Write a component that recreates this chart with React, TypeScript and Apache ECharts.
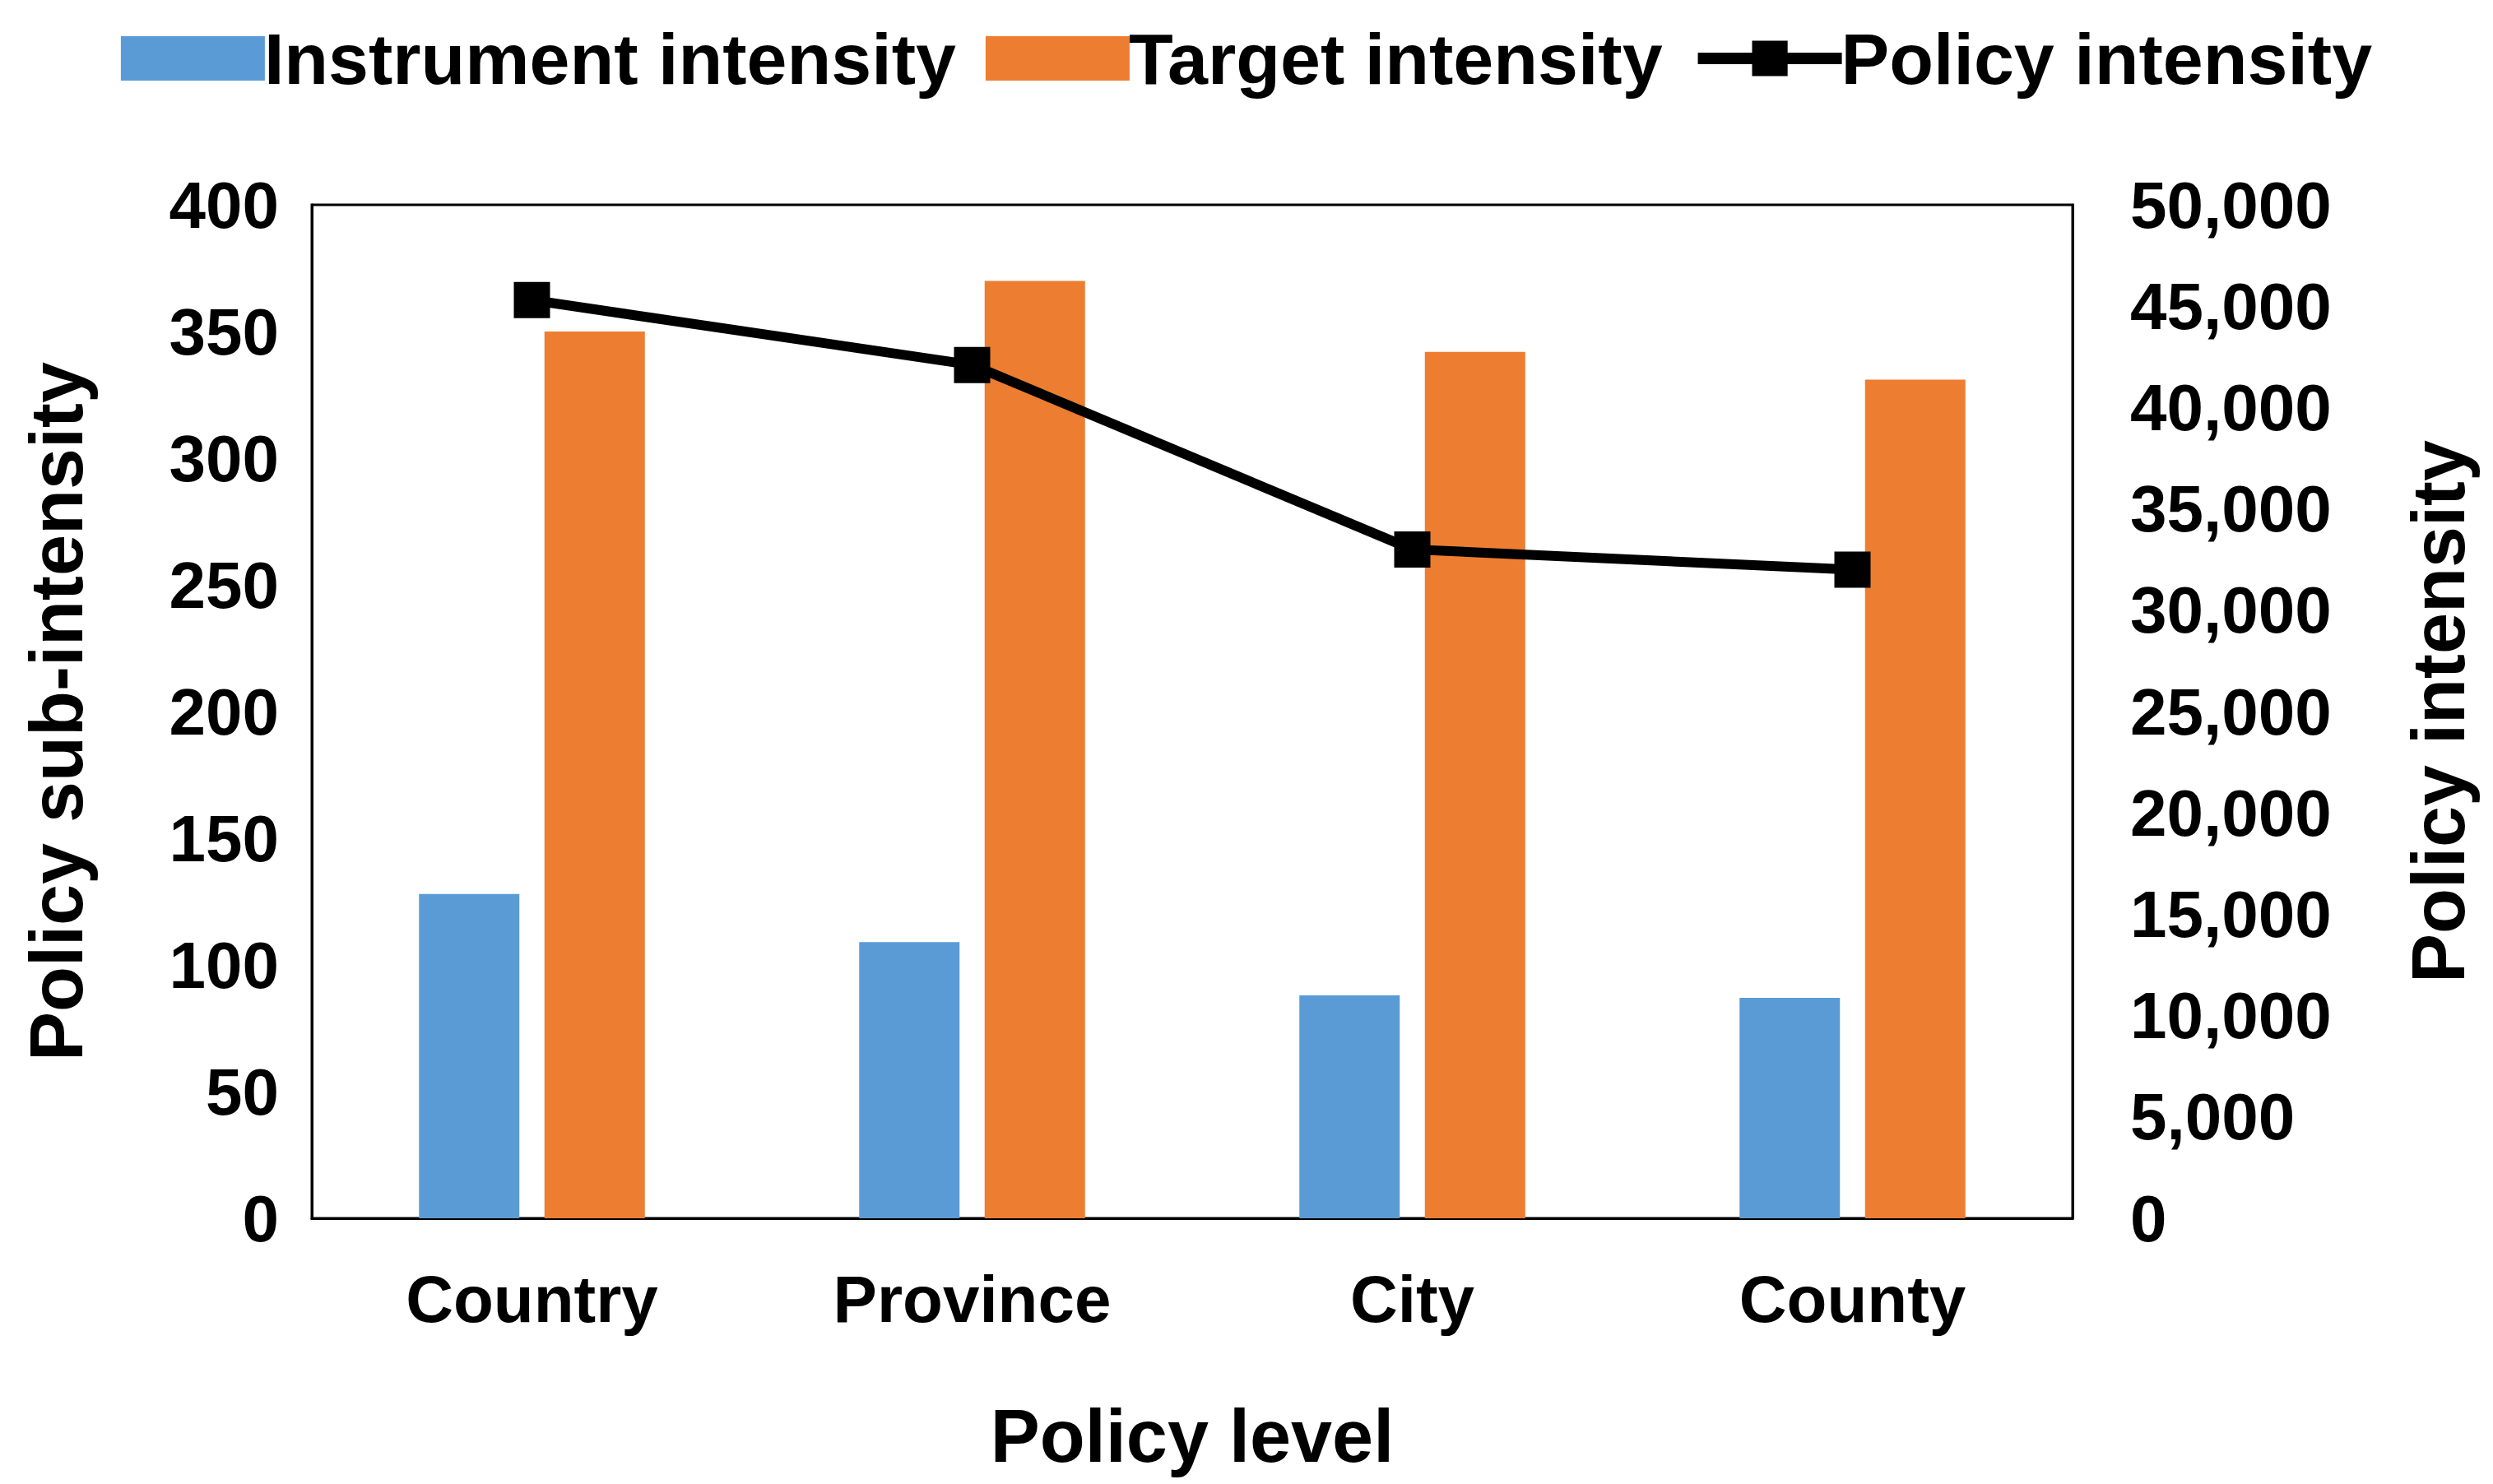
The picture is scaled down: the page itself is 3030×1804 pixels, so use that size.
import { useEffect, useRef } from 'react';
import * as echarts from 'echarts';

const categories = ['Country', 'Province', 'City', 'County'];
const instrument = [128, 109, 88, 87];
const target = [350, 370, 342, 331];
const policy = [45300, 42100, 33000, 32000];

const FONT = '"Liberation Sans", Arial, sans-serif';

export default function App() {
  const ref = useRef<HTMLDivElement>(null);

  useEffect(() => {
    if (!ref.current) return;
    const chart = echarts.init(ref.current, null, { renderer: 'svg' });
    const axisText = { fontSize: 80, fontWeight: 'bold', color: '#000', fontFamily: FONT };
    chart.setOption({
      animation: false,
      backgroundColor: '#fff',
      textStyle: { fontFamily: FONT },
      legend: {
        top: 14,
        left: 'center',
        itemWidth: 175,
        itemHeight: 54,
        itemGap: 36,
        textStyle: { fontSize: 88, fontWeight: 'bold', color: '#000', fontFamily: FONT, padding: [0, 0, 0, -6] },
        data: [
          { name: 'Instrument intensity', icon: 'rect' },
          { name: 'Target intensity', icon: 'rect' },
          { name: 'Policy intensity', lineStyle: { width: 14, color: '#000' } },
        ],
      },
      grid: {
        left: 371, right: 503, top: 241, bottom: 301,
        show: true, borderColor: '#000', borderWidth: 3,
      },
      xAxis: {
        type: 'category',
        data: categories,
        name: 'Policy level',
        nameLocation: 'middle',
        nameGap: 220,
        nameTextStyle: { ...axisText, fontSize: 90 },
        axisLine: { lineStyle: { color: '#000', width: 3 } },
        axisTick: { show: false },
        axisLabel: { ...axisText, margin: 58 },
      },
      yAxis: [
        {
          type: 'value',
          min: 0,
          max: 400,
          interval: 50,
          name: 'Policy sub-intensity',
          nameLocation: 'middle',
          nameGap: 265,
          nameTextStyle: { ...axisText, fontSize: 90 },
          axisLine: { show: true, lineStyle: { color: '#000', width: 3 } },
          axisTick: { show: false },
          splitLine: { show: false },
          axisLabel: { ...axisText, margin: 40 },
        },
        {
          type: 'value',
          min: 0,
          max: 50000,
          interval: 5000,
          name: 'Policy intensity',
          nameLocation: 'middle',
          nameGap: 400,
          nameRotate: 90,
          nameTextStyle: { ...axisText, fontSize: 90 },
          axisLine: { show: true, lineStyle: { color: '#000', width: 3 } },
          axisTick: { show: false },
          splitLine: { show: false },
          axisLabel: {
            ...axisText,
            margin: 70,
            formatter: (v: number) => v.toLocaleString('en-US'),
          },
        },
      ],
      series: [
        {
          name: 'Instrument intensity',
          type: 'bar',
          data: instrument,
          barWidth: 122,
          barGap: '25%',
          itemStyle: { color: '#5b9bd5' },
        },
        {
          name: 'Target intensity',
          type: 'bar',
          data: target,
          barWidth: 122,
          itemStyle: { color: '#ed7d31' },
        },
        {
          name: 'Policy intensity',
          type: 'line',
          yAxisIndex: 1,
          data: policy,
          symbol: 'rect',
          symbolSize: 44,
          lineStyle: { color: '#000', width: 12 },
          itemStyle: { color: '#000' },
        },
      ],
    });
    return () => chart.dispose();
  }, []);

  return <div ref={ref} style={{ width: 3014, height: 1788 }} />;
}
